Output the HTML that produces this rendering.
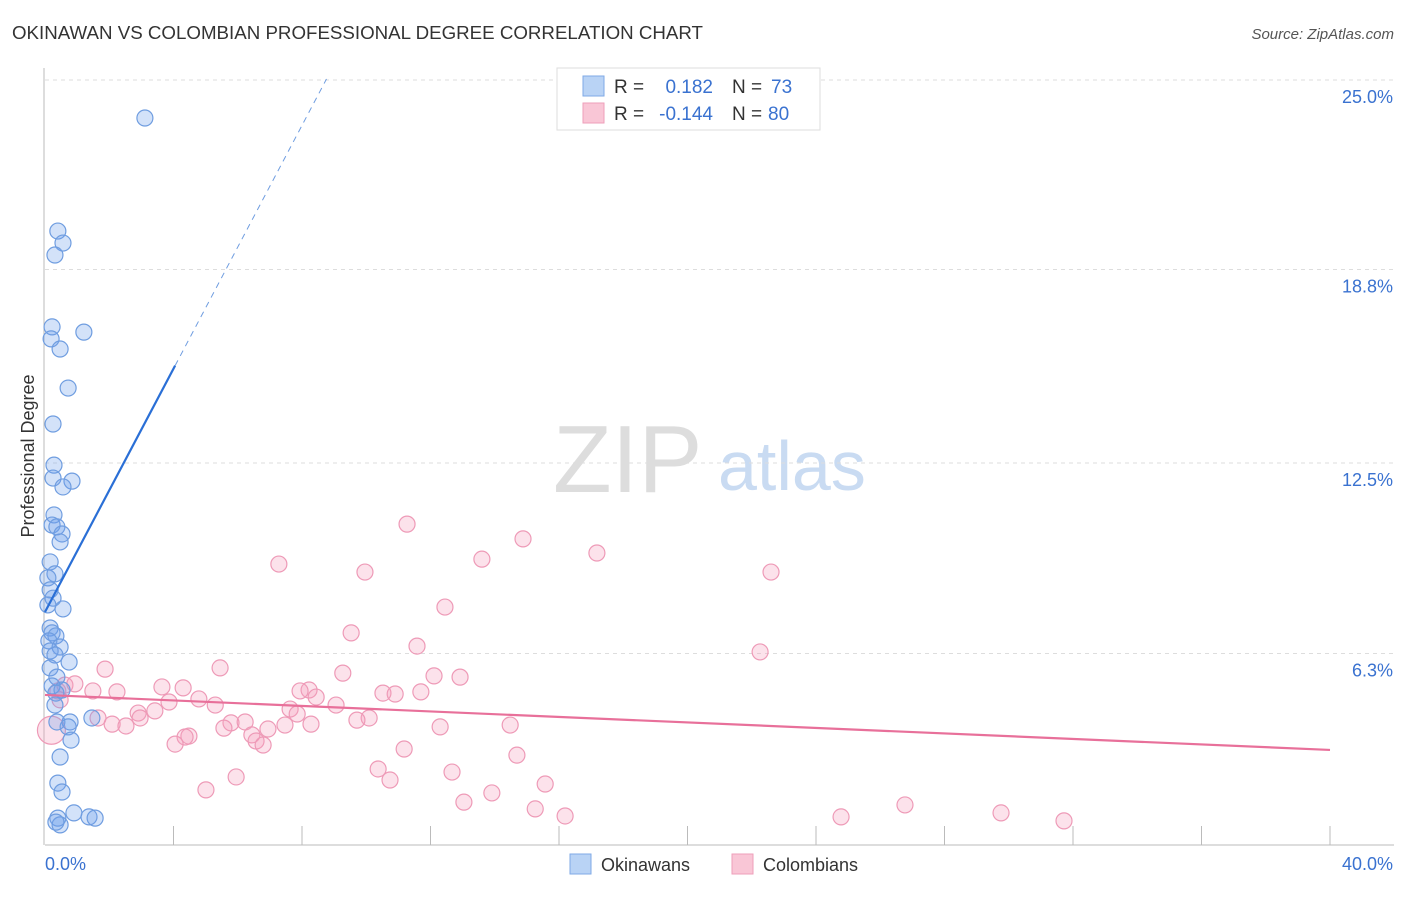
<!DOCTYPE html>
<html><head><meta charset="utf-8"><style>
body{margin:0;background:#fff;font-family:"Liberation Sans",sans-serif;}
svg text{font-family:"Liberation Sans",sans-serif;}
</style></head><body>
<svg id="c" width="1406" height="892" viewBox="0 0 1406 892" xmlns="http://www.w3.org/2000/svg">
<text x="12" y="39" font-size="18" fill="#333" textLength="691" lengthAdjust="spacingAndGlyphs">OKINAWAN VS COLOMBIAN PROFESSIONAL DEGREE CORRELATION CHART</text>
<text x="1394" y="39" font-size="15" fill="#555" font-style="italic" text-anchor="end">Source: ZipAtlas.com</text>
<text x="34" y="456" font-size="18" fill="#333" text-anchor="middle" transform="rotate(-90 34 456)">Professional Degree</text>
<g><text x="553" y="492" font-size="96" fill="#ddd" font-family="Liberation Serif">ZIP</text><text x="718" y="490" font-size="70" fill="#c9dbf2">atlas</text></g>
<g id="grid"></g><g id="marks"></g>
<g>
<rect x="557" y="68" width="263" height="62" fill="#fff" stroke="#ddd"/>
<rect x="583" y="76" width="21" height="20" fill="#b9d3f5" stroke="#7faae6"/>
<rect x="583" y="103" width="21" height="20" fill="#f9c6d6" stroke="#ee9fba"/>
<text x="614" y="93" font-size="19" fill="#333">R =</text><text x="713" y="93" font-size="19" fill="#3a72d0" text-anchor="end">0.182</text>
<text x="732" y="93" font-size="19" fill="#333">N =</text><text x="771" y="93" font-size="19" fill="#3a72d0">73</text>
<text x="614" y="120" font-size="19" fill="#333">R =</text><text x="713" y="120" font-size="19" fill="#3a72d0" text-anchor="end">-0.144</text>
<text x="732" y="120" font-size="19" fill="#333">N =</text><text x="768" y="120" font-size="19" fill="#3a72d0">80</text>
</g>
<g>
<rect x="570" y="854" width="21" height="20" fill="#b9d3f5" stroke="#7faae6"/>
<text x="601" y="871" font-size="18" fill="#333">Okinawans</text>
<rect x="732" y="854" width="21" height="20" fill="#f9c6d6" stroke="#ee9fba"/>
<text x="763" y="871" font-size="18" fill="#333">Colombians</text>
</g>
</svg>
<script>
const blueX=[3.11,0.40,0.56,0.31,0.22,1.21,0.19,0.47,0.72,0.25,0.28,0.25,0.84,0.56,0.28,0.22,0.37,0.53,0.47,0.16,0.31,0.09,0.16,0.25,0.56,0.09,0.16,0.22,0.34,0.12,0.47,0.16,0.31,0.75,0.16,0.37,0.22,0.53,0.34,0.31,1.46,0.78,0.37,0.72,0.81,0.47,0.40,0.53,0.90,0.40,1.37,1.56,0.47,0.34];
const blueY=[23.73,20.05,19.66,19.27,16.93,16.76,16.54,16.21,14.94,13.77,12.43,12.01,11.91,11.72,10.81,10.48,10.42,10.19,9.93,9.28,8.89,8.76,8.37,8.10,7.75,7.88,7.13,6.97,6.87,6.71,6.51,6.38,6.25,6.02,5.83,5.53,5.24,5.11,5.01,4.62,4.20,4.07,4.07,3.91,3.48,2.93,2.08,1.79,1.11,0.94,0.98,0.94,0.72,0.81];
const pinkX=[11.27,14.88,17.18,7.28,13.60,9.96,22.60,12.45,9.53,11.58,22.26,1.87,5.45,9.27,12.11,12.92,3.64,4.30,8.22,7.94,10.52,10.90,11.70,2.24,1.49,8.44,4.79,3.86,5.30,9.06,7.63,3.42,7.85,2.90,1.65,2.96,10.09,9.71,2.09,2.52,5.79,6.23,7.47,8.28,12.30,14.48,5.57,6.94,6.44,4.48,4.36,6.57,6.79,4.05,11.18,14.69,10.37,12.67,10.74,5.95,15.57,5.01,13.91,13.04,15.26,16.19,24.78,26.77,29.76,31.72,0.62,0.93,0.40,0.47,0.2];
const pinkY=[10.51,10.03,9.57,9.21,9.37,8.95,8.95,7.81,6.97,6.54,6.35,5.79,5.83,5.66,5.57,5.53,5.21,5.18,5.11,5.08,5.01,4.98,5.05,5.05,5.08,4.88,4.82,4.72,4.62,4.62,4.49,4.43,4.33,4.36,4.20,4.20,4.20,4.13,4.00,3.94,4.04,4.07,3.97,4.00,3.91,3.97,3.87,3.84,3.65,3.61,3.58,3.45,3.32,3.35,3.19,2.99,2.54,2.44,2.18,2.28,2.05,1.86,1.76,1.46,1.24,1.01,0.98,1.37,1.11,0.85,5.27,5.31,5.08,4.79,3.8];
const yTicks=[25.0,18.8,12.5,6.3];
const yTickLabels=["25.0%","18.8%","12.5%","6.3%"];
const xTicks=[4,8,12,16,20,24,28,32,36,40];
const blueTrend=[7.65,1.98];
const pinkTrend=[4.95,3.16];
const sx=v=>45+v/40*1285;
const sy=v=>847-v/6.25*192;
const NS="http://www.w3.org/2000/svg";
function mk(t,a,p){const e=document.createElementNS(NS,t);for(const k in a)e.setAttribute(k,a[k]);p.appendChild(e);return e;}
const g=document.getElementById('grid'),m=document.getElementById('marks');
yTicks.forEach((t,i)=>{
 const yy=i==0?80:sy(t);
 const l=mk('line',{x1:45,x2:1394,y1:yy,y2:yy,stroke:'#ddd','stroke-dasharray':'4,4'},g);
 
 
 const tx=mk('text',{x:1393,y:yy+23,'font-size':18,fill:'#3a72d0','text-anchor':'end'},g);
 tx.textContent=yTickLabels[i];
 
 
});
const ax=mk('line',{x1:45,x2:1394,y1:845,y2:845,stroke:'#bbb'},g);


const ay=mk('line',{x1:44,x2:44,y1:68,y2:845,stroke:'#bbb'},g);


xTicks.forEach(t=>{const l=mk('line',{x1:sx(t),x2:sx(t),y1:826,y2:845,stroke:'#bbb'},g);
 
 });
const x0=mk('text',{x:45,y:870,'font-size':18,fill:'#3a72d0'},g);x0.textContent='0.0%';


const x1=mk('text',{x:1393,y:870,'font-size':18,fill:'#3a72d0','text-anchor':'end'},g);x1.textContent='40.0%';


pinkX.forEach((x,i)=>{const c=mk('circle',{cx:sx(x),cy:sy(pinkY[i]),r:i==pinkX.length-1?14:8,fill:'rgba(244,160,190,0.3)',stroke:'#ee9ab7','stroke-width':1.2},m);
 
 });
blueX.forEach((x,i)=>{const c=mk('circle',{cx:sx(x),cy:sy(blueY[i]),r:8,fill:'rgba(110,160,235,0.3)',stroke:'#6f9de0','stroke-width':1.2},m);
 
 });
const bEnd=4.05, bDash=(25-blueTrend[0])/blueTrend[1];
const bl=mk('line',{x1:sx(0),y1:sy(blueTrend[0]),x2:sx(bEnd),y2:sy(blueTrend[0]+blueTrend[1]*bEnd),stroke:'#2a6fd6','stroke-width':2.2},m);


const bd=mk('line',{x1:sx(bEnd),y1:sy(blueTrend[0]+blueTrend[1]*bEnd),x2:sx(bDash),y2:sy(25),stroke:'#6f9de0','stroke-width':1,'stroke-dasharray':'6,5'},m);


const pl=mk('line',{x1:sx(0),y1:sy(pinkTrend[0]),x2:sx(40),y2:sy(pinkTrend[1]),stroke:'#e8709a','stroke-width':2.2},m);


</script>
</body></html>
